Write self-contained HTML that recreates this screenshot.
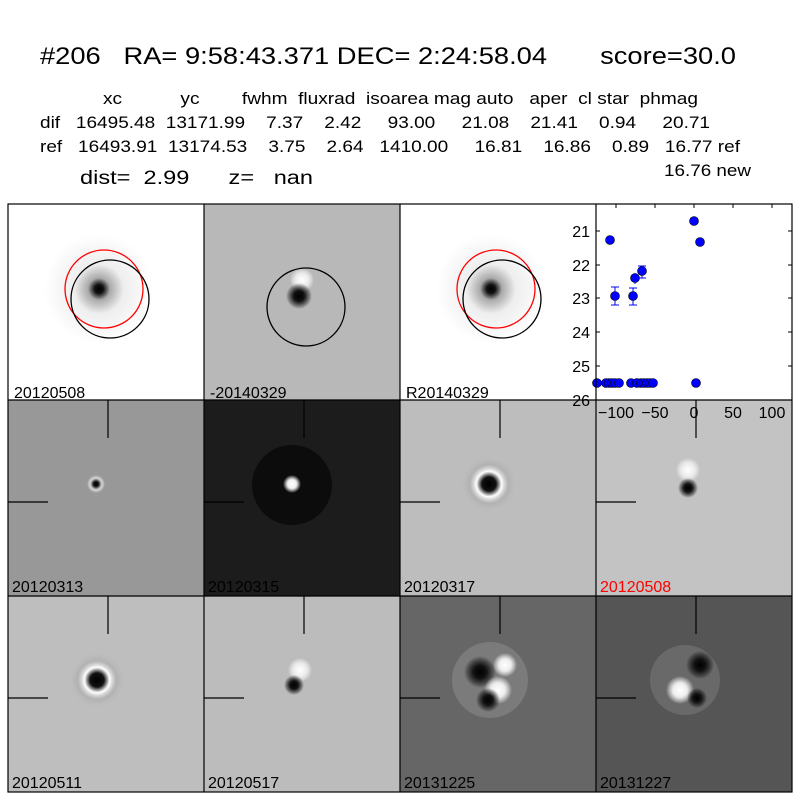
<!DOCTYPE html>
<html><head><style>body{margin:0;background:#fff}svg{display:block}</style></head><body>
<svg width="800" height="800" xmlns="http://www.w3.org/2000/svg" font-family="Liberation Sans, DejaVu Sans, sans-serif">
<defs>
<radialGradient id="g1"><stop offset="0" stop-color="#000"/><stop offset="0.08" stop-color="#111"/><stop offset="0.2" stop-color="#aaa"/><stop offset="0.45" stop-color="#eee"/><stop offset="1" stop-color="#fff"/></radialGradient>
<radialGradient id="dk"><stop offset="0" stop-color="#000"/><stop offset="0.4" stop-color="#111"/><stop offset="1" stop-color="#000" stop-opacity="0"/></radialGradient>
<radialGradient id="wh"><stop offset="0" stop-color="#fff"/><stop offset="0.5" stop-color="#eee"/><stop offset="1" stop-color="#fff" stop-opacity="0"/></radialGradient>
<radialGradient id="ring"><stop offset="0" stop-color="#000"/><stop offset="0.25" stop-color="#111"/><stop offset="0.45" stop-color="#fff"/><stop offset="0.7" stop-color="#aaa" stop-opacity="0.6"/><stop offset="1" stop-color="#bbb" stop-opacity="0"/></radialGradient>
</defs>
<rect width="800" height="800" fill="#fff"/>
<text x="40" y="64" font-size="24" textLength="696" lengthAdjust="spacingAndGlyphs" xml:space="preserve">#206   RA= 9:58:43.371 DEC= 2:24:58.04       score=30.0</text>
<g font-size="17">
<text x="103" y="104" textLength="595" lengthAdjust="spacingAndGlyphs" xml:space="preserve">xc           yc        fwhm  fluxrad  isoarea mag auto   aper  cl star  phmag</text>
<text x="40" y="128" textLength="670" lengthAdjust="spacingAndGlyphs" xml:space="preserve">dif   16495.48  13171.99    7.37    2.42     93.00     21.08    21.41    0.94     20.71</text>
<text x="40" y="152" textLength="700" lengthAdjust="spacingAndGlyphs" xml:space="preserve">ref   16493.91  13174.53    3.75    2.64   1410.00     16.81    16.86    0.89   16.77 ref</text>
<text x="664" y="176" textLength="87" lengthAdjust="spacingAndGlyphs">16.76 new</text>
<text x="80" y="184" font-size="19" textLength="233" lengthAdjust="spacingAndGlyphs" xml:space="preserve">dist=  2.99      z=   nan</text>
</g>
<!-- row1 -->
<rect x="8" y="204" width="196" height="196" fill="#fff"/>
<circle cx="99" cy="289" r="55" fill="url(#g1)"/>
<circle cx="104" cy="289" r="39" fill="none" stroke="#f00" stroke-width="1.3"/>
<circle cx="110" cy="299" r="39" fill="none" stroke="#000" stroke-width="1.3"/>
<rect x="204" y="204" width="196" height="196" fill="#b8b8b8"/>
<circle cx="302" cy="280" r="12" fill="url(#wh)"/>
<circle cx="299" cy="296" r="13" fill="url(#dk)"/>
<circle cx="306" cy="307" r="39" fill="none" stroke="#000" stroke-width="1.3"/>
<rect x="400" y="204" width="196" height="196" fill="#fff"/>
<circle cx="491" cy="289" r="55" fill="url(#g1)"/>
<circle cx="496" cy="289" r="39" fill="none" stroke="#f00" stroke-width="1.3"/>
<circle cx="502" cy="299" r="39" fill="none" stroke="#000" stroke-width="1.3"/>
<!-- plot -->
<rect x="596" y="204" width="196" height="196" fill="#fff"/>
<g stroke="#000" stroke-width="1">
<line x1="596" y1="231" x2="600" y2="231"/><line x1="596" y1="265" x2="600" y2="265"/><line x1="596" y1="298" x2="600" y2="298"/><line x1="596" y1="332" x2="600" y2="332"/><line x1="596" y1="366" x2="600" y2="366"/>
<line x1="792" y1="231" x2="788" y2="231"/><line x1="792" y1="265" x2="788" y2="265"/><line x1="792" y1="298" x2="788" y2="298"/><line x1="792" y1="332" x2="788" y2="332"/><line x1="792" y1="366" x2="788" y2="366"/>
<line x1="616" y1="204" x2="616" y2="208"/><line x1="655" y1="204" x2="655" y2="208"/><line x1="694" y1="204" x2="694" y2="208"/><line x1="733" y1="204" x2="733" y2="208"/><line x1="772" y1="204" x2="772" y2="208"/>
</g>
<g stroke="#00f" stroke-width="1">
<line x1="615" y1="287" x2="615" y2="305"/><line x1="611" y1="287" x2="619" y2="287"/><line x1="611" y1="305" x2="619" y2="305"/>
<line x1="633" y1="288" x2="633" y2="305"/><line x1="629" y1="288" x2="637" y2="288"/><line x1="629" y1="305" x2="637" y2="305"/>
<line x1="642" y1="266" x2="642" y2="278"/><line x1="638" y1="266" x2="646" y2="266"/><line x1="638" y1="278" x2="646" y2="278"/>
<line x1="635" y1="273" x2="635" y2="284"/>
</g>
<g fill="#00f" stroke="#000" stroke-width="0.6">
<circle cx="610" cy="240" r="4.5"/><circle cx="694" cy="221" r="4.5"/><circle cx="700" cy="242" r="4.5"/>
<circle cx="615" cy="296" r="4.5"/><circle cx="633" cy="296" r="4.5"/><circle cx="635" cy="278" r="4.5"/><circle cx="642" cy="271" r="4.5"/>
<circle cx="597" cy="383" r="4.5"/><circle cx="606" cy="383" r="4.5"/><circle cx="609" cy="383" r="4.5"/><circle cx="612" cy="383" r="4.5"/><circle cx="615" cy="383" r="4.5"/><circle cx="619" cy="383" r="4.5"/>
<circle cx="631" cy="383" r="4.5"/><circle cx="637" cy="383" r="4.5"/><circle cx="641" cy="383" r="4.5"/><circle cx="644" cy="383" r="4.5"/><circle cx="647" cy="383" r="4.5"/><circle cx="650" cy="383" r="4.5"/><circle cx="653" cy="383" r="4.5"/><circle cx="696" cy="383" r="4.5"/>
</g>
<!-- row2 -->
<rect x="8" y="400" width="196" height="196" fill="#989898"/>
<circle cx="96" cy="484" r="9" fill="url(#wh)"/><circle cx="96" cy="484" r="6" fill="url(#dk)"/>
<rect x="204" y="400" width="196" height="196" fill="#1c1c1c"/>
<circle cx="292" cy="485" r="40" fill="#0c0c0c"/><circle cx="292" cy="484" r="9" fill="url(#wh)"/>
<rect x="400" y="400" width="196" height="196" fill="#bdbdbd"/>
<circle cx="489" cy="484" r="28" fill="url(#ring)"/>
<rect x="596" y="400" width="196" height="196" fill="#c3c3c3"/>
<circle cx="688" cy="470" r="12" fill="url(#wh)"/><circle cx="688" cy="488" r="10" fill="url(#dk)"/>
<g font-size="16" text-anchor="end">
<text x="590" y="237">21</text><text x="590" y="271">22</text><text x="590" y="304">23</text><text x="590" y="338">24</text><text x="590" y="372">25</text><text x="590" y="406">26</text>
</g>
<g font-size="16" text-anchor="middle">
<text x="616" y="418">−100</text><text x="655" y="418">−50</text><text x="694" y="418">0</text><text x="733" y="418">50</text><text x="772" y="418">100</text>
</g>
<!-- row3 -->
<rect x="8" y="596" width="196" height="196" fill="#bebebe"/>
<circle cx="97" cy="680" r="28" fill="url(#ring)"/>
<rect x="204" y="596" width="196" height="196" fill="#bcbcbc"/>
<circle cx="300" cy="670" r="12" fill="url(#wh)"/><circle cx="294" cy="685" r="10" fill="url(#dk)"/>
<rect x="400" y="596" width="196" height="196" fill="#666"/>
<circle cx="490" cy="680" r="38" fill="#888" opacity="0.6"/><circle cx="480" cy="672" r="16" fill="url(#dk)"/><circle cx="498" cy="690" r="14" fill="url(#wh)"/><circle cx="488" cy="700" r="12" fill="url(#dk)"/><circle cx="505" cy="665" r="12" fill="url(#wh)"/>
<rect x="596" y="596" width="196" height="196" fill="#555"/>
<circle cx="685" cy="680" r="35" fill="#777" opacity="0.6"/><circle cx="700" cy="665" r="14" fill="url(#dk)"/><circle cx="680" cy="690" r="14" fill="url(#wh)"/><circle cx="697" cy="698" r="10" fill="url(#dk)"/>
<!-- crosshairs -->
<g stroke="#000" stroke-width="1.2">
<line x1="108" y1="400" x2="108" y2="438"/><line x1="8" y1="502" x2="48" y2="502"/>
<line x1="304" y1="400" x2="304" y2="438"/><line x1="204" y1="502" x2="244" y2="502"/>
<line x1="500" y1="400" x2="500" y2="438"/><line x1="400" y1="502" x2="440" y2="502"/>
<line x1="696" y1="400" x2="696" y2="438"/><line x1="596" y1="502" x2="636" y2="502"/>
<line x1="108" y1="596" x2="108" y2="634"/><line x1="8" y1="698" x2="48" y2="698"/>
<line x1="304" y1="596" x2="304" y2="634"/><line x1="204" y1="698" x2="244" y2="698"/>
<line x1="500" y1="596" x2="500" y2="634"/><line x1="400" y1="698" x2="440" y2="698"/>
<line x1="696" y1="596" x2="696" y2="634"/><line x1="596" y1="698" x2="636" y2="698"/>
</g>
<!-- labels -->
<g font-size="16">
<text x="14" y="398">20120508</text><text x="210" y="398">-20140329</text><text x="406" y="398">R20140329</text>
<text x="12" y="592">20120313</text><text x="208" y="592">20120315</text><text x="404" y="592">20120317</text><text x="600" y="592" fill="#f00">20120508</text>
<text x="12" y="788">20120511</text><text x="208" y="788">20120517</text><text x="404" y="788">20131225</text><text x="600" y="788">20131227</text>
</g>
<!-- borders -->
<g fill="none" stroke="#000" stroke-width="1.2">
<rect x="8" y="204" width="784" height="588"/>
<line x1="204" y1="204" x2="204" y2="792"/><line x1="400" y1="204" x2="400" y2="792"/><line x1="596" y1="204" x2="596" y2="792"/>
<line x1="8" y1="400" x2="792" y2="400"/><line x1="8" y1="596" x2="792" y2="596"/>
</g>
</svg>
</body></html>
